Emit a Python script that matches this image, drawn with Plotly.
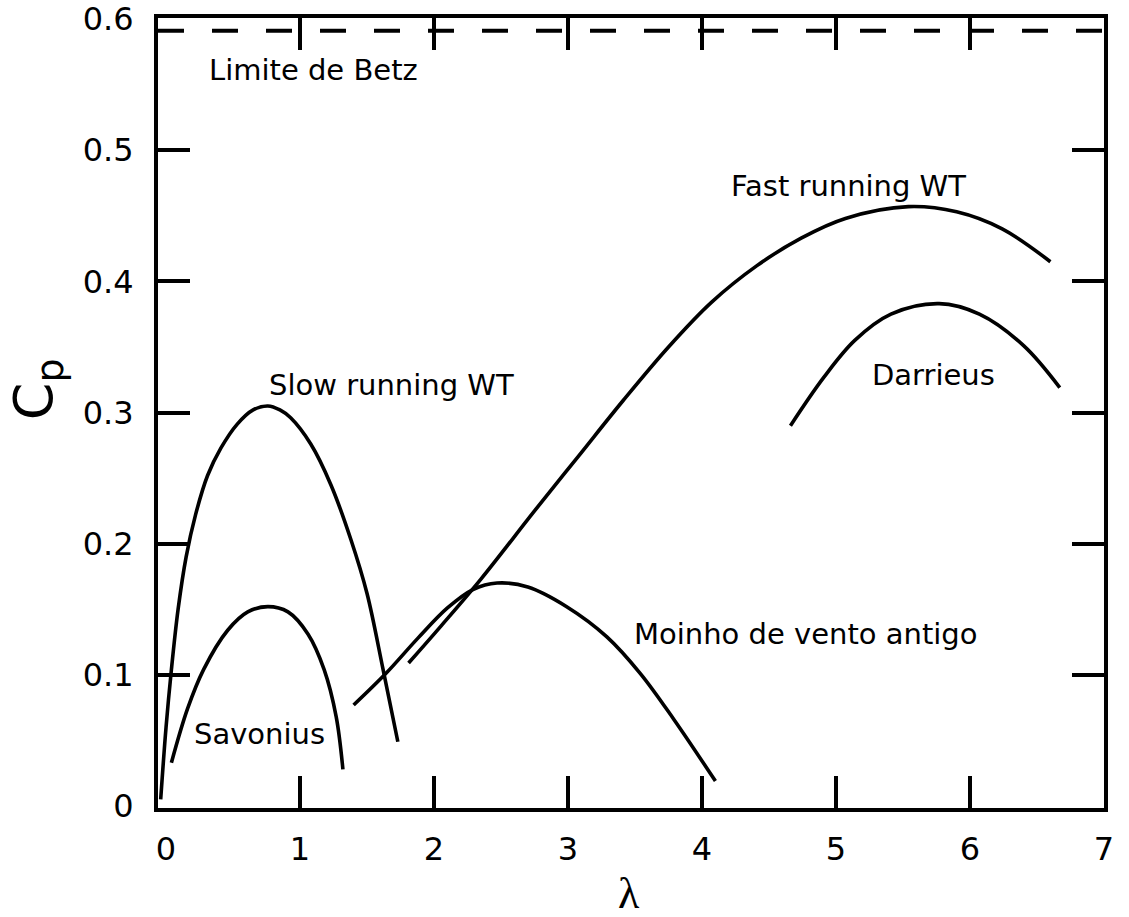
import plotly.graph_objects as go

# --- data ---
betz_x = [-0.06, 7.0]
betz_y = [0.591, 0.591]

slow_x = [-0.04, 0.0, 0.04, 0.09, 0.15, 0.22, 0.31, 0.41, 0.53, 0.65, 0.76, 0.85, 0.93, 1.08, 1.23, 1.38, 1.50, 1.62, 1.73]
slow_y = [0.005, 0.060, 0.104, 0.150, 0.190, 0.222, 0.252, 0.273, 0.291, 0.302, 0.305, 0.302, 0.296, 0.276, 0.245, 0.203, 0.162, 0.104, 0.049]

savonius_x = [0.04, 0.16, 0.28, 0.46, 0.61, 0.76, 0.91, 1.06, 1.18, 1.27, 1.32]
savonius_y = [0.033, 0.074, 0.104, 0.134, 0.148, 0.152, 0.148, 0.131, 0.104, 0.068, 0.028]

moinho_x = [1.40, 1.64, 1.88, 2.10, 2.29, 2.47, 2.70, 2.99, 3.29, 3.54, 3.79, 4.10]
moinho_y = [0.077, 0.101, 0.128, 0.151, 0.165, 0.170, 0.167, 0.152, 0.129, 0.101, 0.066, 0.019]

fast_x = [1.81, 2.05, 2.35, 2.75, 3.08, 3.41, 3.75, 4.07, 4.41, 4.74, 5.07, 5.54, 5.90, 6.24, 6.60]
fast_y = [0.109, 0.137, 0.173, 0.225, 0.267, 0.309, 0.350, 0.384, 0.412, 0.433, 0.448, 0.457, 0.453, 0.440, 0.415]

darrieus_x = [4.66, 4.91, 5.14, 5.41, 5.77, 6.07, 6.40, 6.67]
darrieus_y = [0.290, 0.327, 0.355, 0.375, 0.383, 0.375, 0.351, 0.319]

labels = ["Limite de Betz", "Slow running WT", "Savonius", "Moinho de vento antigo",
          "Fast running WT", "Darrieus"]
label_x = [1.10, 1.68, 0.70, 4.77, 5.09, 5.73]
label_y = [0.561, 0.321, 0.055, 0.131, 0.473, 0.329]

x_labels = [0, 1, 2, 3, 4, 5, 6, 7]
x_tickmarks = [1, 2, 3, 4, 5, 6]
y_labels = [0, 0.1, 0.2, 0.3, 0.4, 0.5, 0.6]
y_labeltext = ["0", "0.1", "0.2", "0.3", "0.4", "0.5", "0.6"]
y_tickmarks = [0.1, 0.2, 0.3, 0.4, 0.5]

FONT = "DejaVu Sans"
LW = 3.6

fig = go.Figure()

fig.add_trace(go.Scatter(x=betz_x, y=betz_y, mode="lines", xaxis="x2", yaxis="y2",
                         line=dict(color="black", width=4, dash="26px,28px"),
                         name="Limite de Betz", hoverinfo="skip"))

for name, xs, ys in [("Slow running WT", slow_x, slow_y),
                     ("Savonius", savonius_x, savonius_y),
                     ("Moinho de vento antigo", moinho_x, moinho_y),
                     ("Fast running WT", fast_x, fast_y),
                     ("Darrieus", darrieus_x, darrieus_y)]:
    fig.add_trace(go.Scatter(x=xs, y=ys, mode="lines", name=name,
                             line=dict(color="black", width=LW, shape="spline", smoothing=1.0)))

for t, xv, yv in zip(labels, label_x, label_y):
    fig.add_annotation(x=xv, y=yv, xref="x", yref="y", text=t, showarrow=False,
                       font=dict(family=FONT, size=29, color="black"),
                       xanchor="center", yanchor="middle")

# axis titles
fig.add_annotation(x=0.498, y=-0.108, xref="paper", yref="paper", text="λ", showarrow=False,
                   font=dict(family="Liberation Serif", size=44, color="black"),
                   xanchor="center", yanchor="middle")
fig.add_annotation(x=-0.128, y=0.53, xref="paper", yref="paper", text="C<sub>p</sub>",
                   showarrow=False, textangle=-90,
                   font=dict(family=FONT, size=54, color="black"),
                   xanchor="center", yanchor="middle")

# primary axes: frame + labels
label_axis = dict(showline=True, linecolor="black", linewidth=4, mirror=True,
                  ticks="", showgrid=False, zeroline=False, automargin=False,
                  tickfont=dict(family=FONT, size=32, color="black"))
# overlay axes: inward tick marks on all four sides
tick_axis = dict(showline=False, mirror="ticks", ticks="inside", ticklen=32,
                 tickwidth=4, tickcolor="black", showticklabels=False,
                 showgrid=False, zeroline=False, automargin=False)

fig.update_layout(
    xaxis=dict(range=[-0.06, 7.0], tickmode="array", tickvals=x_labels,
               ticktext=[str(v) for v in x_labels], ticklabelstandoff=10, **label_axis),
    yaxis=dict(range=[-0.0015, 0.6008], tickmode="array", tickvals=y_labels,
               ticktext=y_labeltext, ticklabelstandoff=14, **label_axis),
    xaxis2=dict(overlaying="x", matches="x", anchor="y2", side="bottom",
                tickmode="array", tickvals=x_tickmarks, **tick_axis),
    yaxis2=dict(overlaying="y", matches="y", anchor="x2", side="left",
                tickmode="array", tickvals=y_tickmarks, **tick_axis),
    width=1129, height=917, showlegend=False,
    plot_bgcolor="white", paper_bgcolor="white",
    margin=dict(l=158, r=25, t=18, b=109),
)

fig.write_html("out.html")
